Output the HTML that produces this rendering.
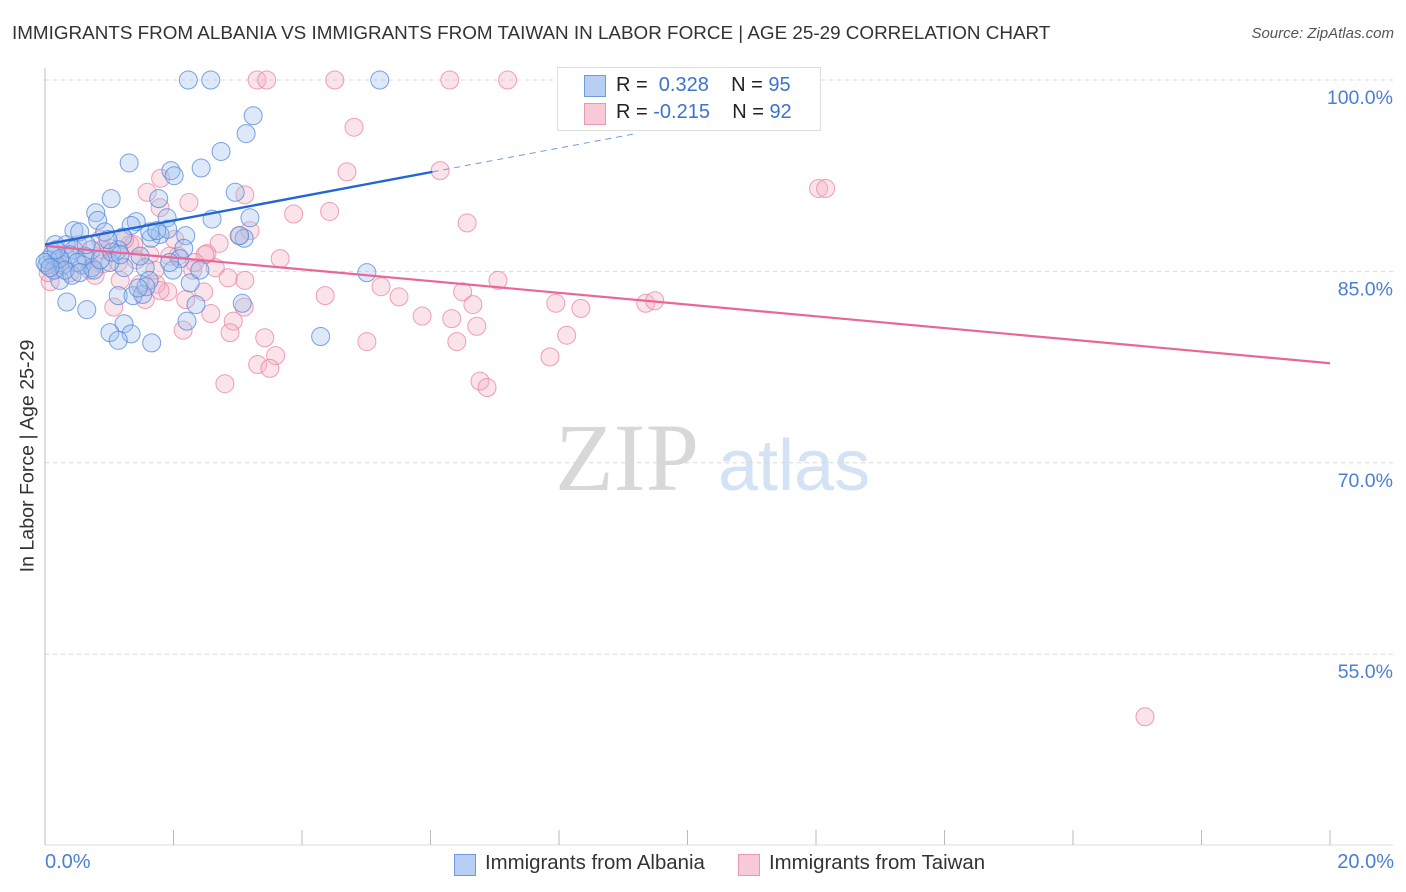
<!DOCTYPE html>
<html><head><meta charset="utf-8"><style>
body{margin:0;background:#fff;font-family:"Liberation Sans",sans-serif;}
#wrap{position:relative;width:1406px;height:892px;overflow:hidden}
.t{position:absolute;white-space:nowrap}
</style></head><body>
<div id="wrap">
<div class="t" style="left:12px;top:22px;font-size:18.85px;color:#333">IMMIGRANTS FROM ALBANIA VS IMMIGRANTS FROM TAIWAN IN LABOR FORCE | AGE 25-29 CORRELATION CHART</div>
<div class="t" style="right:12px;top:25px;font-size:15px;color:#555;font-style:italic">Source: ZipAtlas.com</div>
<svg id="plot" width="1406" height="892" style="position:absolute;left:0;top:0">
<text x="555" y="490" font-family="Liberation Serif,serif" font-size="96" fill="#d8d8d8">ZIP</text>
<text x="718" y="490" font-family="Liberation Sans,sans-serif" font-size="72" fill="#d3e2f4">atlas</text>
</svg>
<div class="t" style="left:28px;top:456px;font-size:19.6px;color:#333;transform:translate(-50%,-50%) rotate(-90deg)">In Labor Force | Age 25-29</div>
<div style="position:absolute;left:557px;top:67px;width:262px;height:62px;border:1px solid #ddd;background:rgba(255,255,255,0.85)"></div>
<div style="position:absolute;left:584px;top:75px;width:20px;height:20px;background:#b6cff2;border:1px solid #6f9ae0"></div>
<div style="position:absolute;left:584px;top:103px;width:20px;height:20px;background:#f8c9d7;border:1px solid #e99ab2"></div>
<div class="t" style="left:616px;top:74px;font-size:20px;color:#222">R = &nbsp;<span style="color:#3b73cf">0.328</span>&nbsp;&nbsp;&nbsp; N = <span style="color:#3b73cf">95</span></div>
<div class="t" style="left:616px;top:101px;font-size:20px;color:#222">R = <span style="color:#3b73cf">-0.215</span>&nbsp;&nbsp;&nbsp; N = <span style="color:#3b73cf">92</span></div>
<div class="t" style="left:45px;top:851px;font-size:20px;color:#4a7fd4">0.0%</div>
<div class="t" style="right:12px;top:851px;font-size:20px;color:#4a7fd4">20.0%</div>
<div style="position:absolute;left:454px;top:854px;width:20px;height:20px;background:#b6cff2;border:1px solid #6f9ae0"></div>
<div class="t" style="left:485px;top:852px;font-size:20.4px;color:#333">Immigrants from Albania</div>
<div style="position:absolute;left:738px;top:854px;width:20px;height:20px;background:#f8c9d7;border:1px solid #e99ab2"></div>
<div class="t" style="left:769px;top:852px;font-size:20.4px;color:#333">Immigrants from Taiwan</div>
</div>
<script>
const yTicks=[100,85,70,55];
const yTickLabels=["100.0%","85.0%","70.0%","55.0%"];
const xTicks=[0,2,4,6,8,10,12,14,16,18,20];
const albaniaX=[2.23,2.58,5.21,3.24,3.13,2.74,1.31,1.96,2.43,2.01,2.96,1.03,1.77,0.79,0.82,2.60,3.19,1.90,1.42,1.34,0.45,0.54,0.93,1.79,2.19,1.21,1.65,0.16,0.33,0.45,0.72,1.14,2.16,3.10,1.91,2.10,1.56,1.23,1.99,0.19,0.03,0.28,0.58,0.73,1.01,0.62,0.39,5.01,0.23,0.42,0.76,1.62,2.26,1.14,1.37,1.52,1.57,0.34,0.65,2.35,2.21,1.23,1.01,1.34,1.14,1.66,4.29,3.07,0.86,0.11,0.05,0.14,0.50,1.04,1.48,1.63,1.74,0.98,3.03,0.23,0.31,0,1.17,0.64,2.41,1.45,0.54,1.94,0.08,0.17];
const albaniaY=[100,100,100,97.2,95.8,94.4,93.5,92.9,93.1,92.5,91.2,90.7,90.7,89.6,89.0,89.1,89.2,89.2,88.9,88.6,88.2,88.1,88.1,87.9,87.8,87.7,87.6,87.1,87.1,86.7,86.7,86.7,86.8,87.6,88.3,86.0,85.3,85.3,85.1,85.9,85.5,85.5,85.5,85.3,85.7,86.2,86.3,84.9,84.3,84.7,85.1,84.3,84.1,83.1,83.1,83.2,83.8,82.6,82.0,82.4,81.1,80.9,80.2,80.1,79.6,79.4,79.9,82.5,85.9,86.3,85.9,85.1,85.7,86.5,86.2,88.1,88.2,87.5,87.8,86.0,85.1,85.7,86.3,87.1,85.1,83.7,84.9,85.7,85.3,86.7];
const taiwanX=[3.30,3.45,4.51,6.30,7.20,4.81,6.15,4.70,12.04,12.15,1.59,1.80,3.11,2.24,4.43,3.87,6.57,1.79,3.02,3.19,2.71,2.52,3.66,2.07,7.05,6.50,5.23,4.36,5.51,6.66,7.95,8.34,9.35,9.49,5.87,6.33,6.72,8.12,6.41,5.01,7.86,3.10,2.58,2.93,2.88,3.42,3.59,3.31,3.50,2.80,6.77,6.88,17.12,1.32,1.01,0.70,0.39,0.08,0.23,0.90,1.14,1.42,1.63,1.94,2.30,2.47,1.91,2.19,1.73,1.48,1.07,2.15,1.38,1.24,0.51,0.86,0.62,0.78,0.31,0.16,1.71,2.65,2.02,2.49,1.17,1.56,2.33,3.11,1.79,2.85,0.89,0.05];
const taiwanY=[100,100,100,100,100,96.3,92.9,92.8,91.5,91.5,91.2,92.3,91.0,90.4,89.7,89.5,88.8,90.0,87.8,88.2,87.2,86.4,86.0,86.2,84.3,83.4,83.8,83.1,83.0,82.4,82.5,82.1,82.5,82.7,81.5,81.3,80.7,80.0,79.5,79.5,78.3,82.2,81.7,81.1,80.2,79.8,78.4,77.7,77.4,76.2,76.4,75.9,50.1,87.1,86.8,85.1,84.9,84.2,85.3,85.6,85.7,85.9,86.3,86.2,85.1,83.4,83.4,82.8,84.0,84.0,82.2,80.4,87.1,87.5,87.1,87.5,86.0,84.7,86.3,85.7,85.1,85.3,87.5,86.3,84.3,82.8,85.7,84.3,83.5,84.5,86.7,84.9];
const albaniaTrend=[[0,87.1],[6.03,92.8]];
const albaniaTrendExt=[[6.03,92.8],[9.2,95.8]];
const taiwanTrend=[[0,87.0],[20,77.8]];

const NS="http://www.w3.org/2000/svg";
const svg=document.getElementById('plot');
const X=v=>45+v*64.25;
const Y=v=>80+(100-v)*12.76;
function mk(tag,attrs){const e=document.createElementNS(NS,tag);for(const k in attrs)e.setAttribute(k,attrs[k]);svg.appendChild(e);return e;}
yTicks.forEach((t,i)=>{
  const g=mk('line',{x1:45,x2:1393,y1:Y(t),y2:Y(t),stroke:'#d8d8d8','stroke-dasharray':'4,4'});
  
  
  const tx=mk('text',{x:1393,y:Y(t)+24,'text-anchor':'end','font-size':19.5,fill:'#4a7fd4','font-family':'Liberation Sans,sans-serif'});
  tx.textContent=yTickLabels[i];
  
  
});
const ax=mk('line',{x1:45,x2:45,y1:68,y2:845,stroke:'#bbb'});


const bx=mk('line',{x1:45,x2:1393,y1:845,y2:845,stroke:'#ddd'});


xTicks.forEach(t=>{
  const l=mk('line',{x1:X(t),x2:X(t),y1:830,y2:845,stroke:'#bbb'});
  
  
});
function pts(xs,ys,fill,stroke,name){
  xs.forEach((x,i)=>{
    const c=mk('circle',{cx:X(x),cy:Y(ys[i]),r:9,fill:fill,'fill-opacity':0.35,stroke:stroke,'stroke-opacity':0.75,'stroke-width':1});
    
    
  });
}
pts(taiwanX,taiwanY,'#f4aec3','#e8829f','point-taiwan');
pts(albaniaX,albaniaY,'#9fc0ee','#4f86d8','point-albania');
function line(p,color,w,dash,name){
  const l=mk('line',{x1:X(p[0][0]),y1:Y(p[0][1]),x2:X(p[1][0]),y2:Y(p[1][1]),stroke:color,'stroke-width':w});
  if(dash)l.setAttribute('stroke-dasharray',dash);
  
  
}
line(taiwanTrend,'#e8679a',2.2,null,'trend-taiwan');
line(albaniaTrend,'#2266d6',2.4,null,'trend-albania');
line(albaniaTrendExt,'#6f9ae0',1,'6,5','trend-albania-extension');
</script>
</body></html>
